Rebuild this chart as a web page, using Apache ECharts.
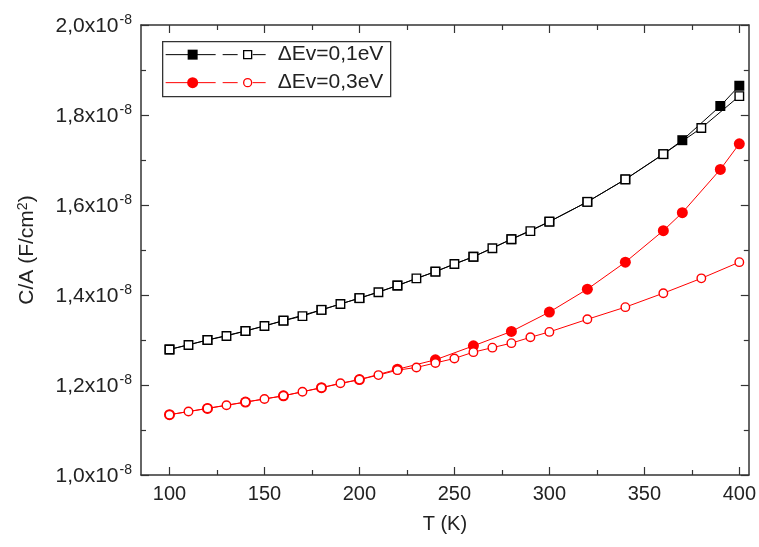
<!DOCTYPE html>
<html>
<head>
<meta charset="utf-8">
<script src="https://cdn.jsdelivr.net/npm/echarts@6/dist/echarts.min.js"></script>
<style>
html,body{margin:0;padding:0;background:#fff;}
#chart{width:759px;height:547px;}
</style>
</head>
<body>
<div id="chart"></div>
<script>
// Temperatures (K)
const tempOpen = [100,110,120,130,140,150,160,170,180,190,200,210,220,230,240,250,260,270,280,290,300,320,340,360,380,400];
const tempFilled = [100,120,140,160,180,200,220,240,260,280,300,320,340,360,370,390,400];

// C/A values in units of 1e-8 F/cm^2
const ev01Filled = [1.279,1.300,1.320,1.343,1.367,1.393,1.421,1.452,1.485,1.524,1.563,1.607,1.657,1.713,1.744,1.820,1.865];
const ev01Open = [1.279,1.289,1.300,1.309,1.320,1.331,1.343,1.353,1.367,1.380,1.393,1.406,1.421,1.437,1.452,1.469,1.485,1.504,1.524,1.542,1.563,1.607,1.657,1.713,1.771,1.842];
const ev03Filled = [1.134,1.148,1.162,1.176,1.194,1.212,1.235,1.256,1.287,1.319,1.362,1.413,1.473,1.543,1.583,1.679,1.736];
const ev03Open = [1.134,1.141,1.148,1.155,1.162,1.169,1.176,1.185,1.194,1.204,1.212,1.222,1.233,1.239,1.249,1.259,1.273,1.283,1.293,1.306,1.318,1.346,1.373,1.404,1.437,1.473];

const xMajorTicks = [100,150,200,250,300,350,400];
const xMinorTicks = [125,175,225,275,325,375];
const legendLabels = ['\u0394Ev=0,1eV', '\u0394Ev=0,3eV'];

const zip = (xs, ys) => xs.map((x, i) => [x, ys[i]]);

const FONT = 'Liberation Sans, Arial, sans-serif';
const AX = '#333';
const RED = '#ff0000';

const chart = echarts.init(document.getElementById('chart'));

const grid = { left: 141, right: 7, top: 25, bottom: 72 };

function xAx(extra) {
  return Object.assign({
    type: 'value', min: 85, max: 405, splitLine: { show: false },
    axisLine: { show: true, lineStyle: { color: AX, width: 1.5 } },
    axisLabel: { show: false }
  }, extra);
}
function yAx(extra) {
  return Object.assign({
    type: 'value', min: 1.0, max: 2.0, interval: 0.2, splitLine: { show: false },
    axisLine: { show: true, lineStyle: { color: AX, width: 1.5 } },
    axisTick: { show: true, inside: true, length: 8, lineStyle: { color: AX, width: 1.2 } },
    minorTick: { show: true, splitNumber: 2, length: 5, lineStyle: { color: AX, width: 1.2 } },
    axisLabel: { show: false }
  }, extra);
}

const option = {
  backgroundColor: '#fff',
  animation: false,
  grid: grid,
  xAxis: [
    xAx({
      position: 'bottom',
      name: 'T (K)', nameLocation: 'middle', nameGap: 39,
      nameTextStyle: { fontFamily: FONT, fontSize: 20, color: '#222' },
      axisTick: { show: true, inside: true, length: 8, customValues: xMajorTicks, lineStyle: { color: AX, width: 1.2 } },
      axisLabel: { show: true, customValues: xMajorTicks, margin: 9, fontFamily: FONT, fontSize: 20, color: '#222' }
    }),
    xAx({
      position: 'bottom',
      axisLine: { show: false },
      axisTick: { show: true, inside: true, length: 5, customValues: xMinorTicks, lineStyle: { color: AX, width: 1.2 } }
    }),
    xAx({
      position: 'top',
      axisTick: { show: true, inside: true, length: 8, customValues: xMajorTicks, lineStyle: { color: AX, width: 1.2 } }
    }),
    xAx({
      position: 'top',
      axisLine: { show: false },
      axisTick: { show: true, inside: true, length: 5, customValues: xMinorTicks, lineStyle: { color: AX, width: 1.2 } }
    })
  ],
  yAxis: [
    yAx({
      position: 'left',
      name: 'C/A (F/cm{s|2})', nameLocation: 'middle', nameGap: 102, nameRotate: 90,
      nameTextStyle: {
        fontFamily: FONT, fontSize: 21, color: '#222',
        rich: { s: { fontFamily: FONT, fontSize: 14, color: '#222', verticalAlign: 'bottom', padding: [0, 0, 9, 0] } }
      },
      axisLabel: {
        show: true, margin: 9, fontFamily: FONT, fontSize: 21, color: '#222',
        formatter: v => '{a|' + v.toFixed(1).replace('.', ',') + 'x10}{b|-8}',
        rich: {
          a: { fontFamily: FONT, fontSize: 21, color: '#222', verticalAlign: 'bottom' },
          b: { fontFamily: FONT, fontSize: 14, color: '#222', verticalAlign: 'bottom', padding: [0, 0, 10, 1] }
        }
      }
    }),
    yAx({ position: 'right' })
  ],
  series: [
    {
      type: 'line', name: legendLabels[0] + ' filled', xAxisIndex: 0, yAxisIndex: 0,
      data: zip(tempFilled, ev01Filled),
      symbol: 'rect', symbolSize: 10,
      lineStyle: { color: '#000', width: 1 },
      itemStyle: { color: '#000', borderColor: '#000', borderWidth: 0 },
      z: 2
    },
    {
      type: 'line', name: legendLabels[0] + ' open', xAxisIndex: 0, yAxisIndex: 0,
      data: zip(tempOpen, ev01Open),
      symbol: 'rect', symbolSize: 8.5, showAllSymbol: true,
      lineStyle: { color: '#000', width: 1 },
      itemStyle: { color: '#fff', borderColor: '#000', borderWidth: 1.4 },
      z: 3
    },
    {
      type: 'line', name: legendLabels[1] + ' filled', xAxisIndex: 0, yAxisIndex: 0,
      data: zip(tempFilled, ev03Filled),
      symbol: 'circle', symbolSize: 11,
      lineStyle: { color: RED, width: 1 },
      itemStyle: { color: RED, borderColor: RED, borderWidth: 0 },
      z: 2
    },
    {
      type: 'line', name: legendLabels[1] + ' open', xAxisIndex: 0, yAxisIndex: 0,
      data: zip(tempOpen, ev03Open),
      symbol: 'circle', symbolSize: 8.5, showAllSymbol: true,
      lineStyle: { color: RED, width: 1 },
      itemStyle: { color: '#fff', borderColor: RED, borderWidth: 1.4 },
      z: 3
    }
  ],
  graphic: [
    {
      type: 'group', left: 162, top: 41, z: 10,
      children: [
        { type: 'rect', shape: { x: 0, y: 0, width: 228, height: 55 }, style: { fill: '#fff', stroke: '#333', lineWidth: 1.3 } },
        // row 1
        { type: 'line', shape: { x1: 3, y1: 13, x2: 53, y2: 13 }, style: { stroke: '#000', lineWidth: 1 } },
        { type: 'rect', shape: { x: 25, y: 8, width: 10, height: 10 }, style: { fill: '#000' } },
        { type: 'line', shape: { x1: 60, y1: 13, x2: 75, y2: 13 }, style: { stroke: '#000', lineWidth: 1 } },
        { type: 'line', shape: { x1: 90, y1: 13, x2: 103, y2: 13 }, style: { stroke: '#000', lineWidth: 1 } },
        { type: 'rect', shape: { x: 81, y: 9, width: 8, height: 8 }, style: { fill: '#fff', stroke: '#000', lineWidth: 1.3 } },
        { type: 'text', x: 115, y: 13, style: { text: legendLabels[0], fontFamily: FONT, fontSize: 21, fill: '#222', verticalAlign: 'middle' } },
        // row 2
        { type: 'line', shape: { x1: 3, y1: 41, x2: 53, y2: 41 }, style: { stroke: RED, lineWidth: 1 } },
        { type: 'circle', shape: { cx: 30, cy: 41, r: 5.5 }, style: { fill: RED } },
        { type: 'line', shape: { x1: 60, y1: 41, x2: 75, y2: 41 }, style: { stroke: RED, lineWidth: 1 } },
        { type: 'line', shape: { x1: 90, y1: 41, x2: 103, y2: 41 }, style: { stroke: RED, lineWidth: 1 } },
        { type: 'circle', shape: { cx: 85, cy: 41, r: 4 }, style: { fill: '#fff', stroke: RED, lineWidth: 1.3 } },
        { type: 'text', x: 115, y: 41, style: { text: legendLabels[1], fontFamily: FONT, fontSize: 21, fill: '#222', verticalAlign: 'middle' } }
      ]
    }
  ]
};

chart.setOption(option);
</script>
</body>
</html>
